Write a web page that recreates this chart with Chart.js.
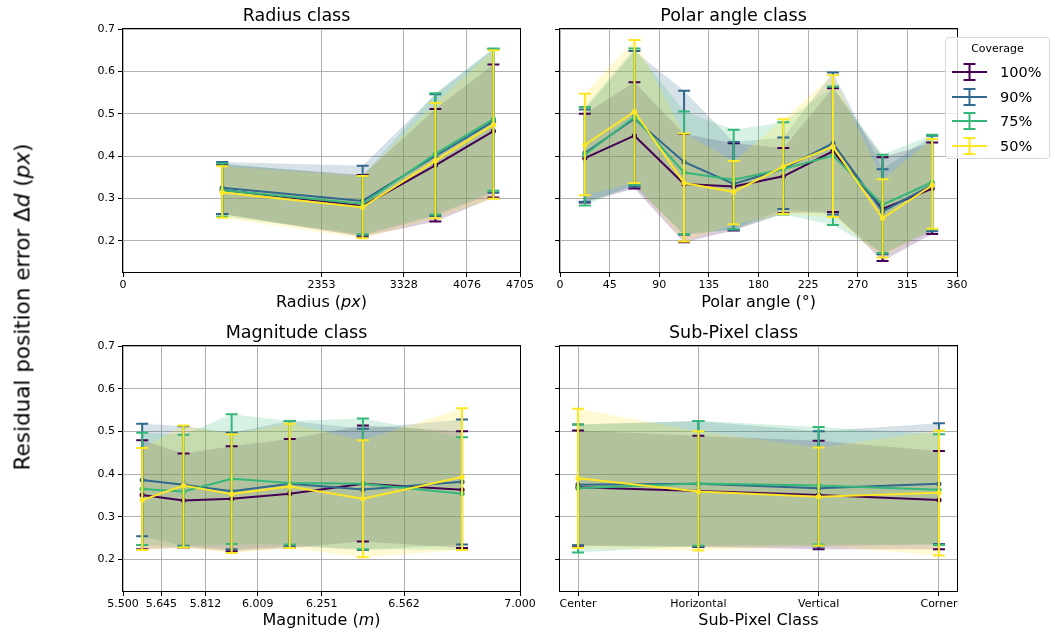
<!DOCTYPE html>
<html>
<head>
<meta charset="utf-8">
<script src="https://cdn.jsdelivr.net/npm/chart.js@4.4.1/dist/chart.umd.min.js"></script>
<style>
  html, body { margin: 0; padding: 0; background: #fff; }
  #fig { position: relative; width: 1055px; height: 637px; font-family: 'DejaVu Sans', sans-serif; color: #000; }
  #fig canvas { position: absolute; left: 0; top: 0; }
  #ylabel {
    position: absolute; left: 22px; top: 307px;
    transform: translate(-50%, -50%) rotate(-90deg);
    white-space: nowrap; font-size: 21.5px;
  }
  #legend {
    position: absolute; left: 945px; top: 37px; width: 105px; height: 122px;
    box-sizing: border-box; border: 1px solid #d8d8d8; border-radius: 4px;
    background: rgba(255, 255, 255, 0.8);
  }
  #legend .lt { position: absolute; left: 0; width: 100%; top: 4px; text-align: center; font-size: 11px; }
  #legend .item { position: absolute; left: 0; width: 100%; height: 20px; }
  #legend .item svg { position: absolute; left: 5px; top: 0; }
  #legend .item span { position: absolute; left: 54px; top: 1px; font-size: 14.5px; line-height: 18px; }
</style>
</head>
<body>
<div id="fig">
  <canvas id="radius" width="1055" height="637"></canvas>
  <canvas id="polar" width="1055" height="637"></canvas>
  <canvas id="mag" width="1055" height="637"></canvas>
  <canvas id="subpix" width="1055" height="637"></canvas>
  <div id="ylabel">Residual position error Δ<i>d</i> (<i>px</i>)</div>
  <div id="legend"><div class="lt">Coverage</div></div>
</div>
<script>
const coverage = ["100%", "90%", "75%", "50%"];
const colors = ["#440154", "#31688e", "#35b779", "#fde725"];
const yTicks = [0.2, 0.3, 0.4, 0.5, 0.6, 0.7];

// Radius class
const radiusTicks = [0, 2353, 3328, 4076, 4705];
const radiusX = [1176, 2840, 3702, 4390];
const radiusMean = [
  [0.320, 0.282, 0.378, 0.459],
  [0.325, 0.294, 0.400, 0.482],
  [0.319, 0.287, 0.405, 0.487],
  [0.314, 0.279, 0.389, 0.474]
];
const radiusLow = [
  [0.263, 0.209, 0.245, 0.302],
  [0.263, 0.212, 0.258, 0.313],
  [0.257, 0.215, 0.262, 0.318],
  [0.254, 0.206, 0.253, 0.299]
];
const radiusHigh = [
  [0.380, 0.355, 0.511, 0.616],
  [0.386, 0.377, 0.546, 0.653],
  [0.382, 0.352, 0.548, 0.654],
  [0.376, 0.353, 0.525, 0.650]
];

// Polar angle class
const polarTicks = [0, 45, 90, 135, 180, 225, 270, 315, 360];
const polarX = [22.5, 67.5, 112.5, 157.5, 202.5, 247.5, 292.5, 337.5];
const polarMean = [
  [0.395, 0.448, 0.334, 0.328, 0.352, 0.411, 0.275, 0.323],
  [0.407, 0.488, 0.386, 0.334, 0.370, 0.430, 0.269, 0.332],
  [0.403, 0.492, 0.361, 0.344, 0.369, 0.401, 0.285, 0.338],
  [0.426, 0.505, 0.336, 0.315, 0.375, 0.422, 0.253, 0.331]
];
const polarLow = [
  [0.290, 0.323, 0.196, 0.224, 0.265, 0.268, 0.152, 0.216],
  [0.292, 0.328, 0.214, 0.226, 0.275, 0.262, 0.168, 0.222],
  [0.283, 0.332, 0.216, 0.227, 0.262, 0.237, 0.171, 0.227],
  [0.307, 0.336, 0.198, 0.239, 0.263, 0.256, 0.160, 0.228]
];
const polarHigh = [
  [0.500, 0.574, 0.452, 0.430, 0.419, 0.560, 0.397, 0.432],
  [0.510, 0.648, 0.554, 0.433, 0.444, 0.597, 0.369, 0.448],
  [0.516, 0.654, 0.505, 0.462, 0.480, 0.564, 0.403, 0.450],
  [0.547, 0.674, 0.453, 0.388, 0.487, 0.591, 0.345, 0.440]
];

// Magnitude class
const magTicks = [5.5, 5.645, 5.812, 6.009, 6.251, 6.562, 7.0];
const magX = [5.5725, 5.7285, 5.9105, 6.130, 6.4065, 6.781];
const magMean = [
  [0.351, 0.338, 0.342, 0.354, 0.377, 0.363],
  [0.386, 0.375, 0.360, 0.377, 0.364, 0.382],
  [0.365, 0.359, 0.389, 0.379, 0.377, 0.354],
  [0.339, 0.373, 0.353, 0.371, 0.342, 0.393]
];
const magLow = [
  [0.224, 0.228, 0.219, 0.227, 0.242, 0.227],
  [0.254, 0.232, 0.224, 0.231, 0.222, 0.235],
  [0.234, 0.230, 0.236, 0.235, 0.224, 0.222],
  [0.222, 0.228, 0.215, 0.227, 0.205, 0.222]
];
const magHigh = [
  [0.479, 0.448, 0.465, 0.482, 0.514, 0.500],
  [0.518, 0.512, 0.497, 0.524, 0.506, 0.528],
  [0.497, 0.492, 0.540, 0.524, 0.530, 0.486],
  [0.461, 0.514, 0.493, 0.518, 0.479, 0.554]
];

// Sub-Pixel class
const subLabels = ["Center", "Horizontal", "Vertical", "Corner"];
const subX = [0, 1, 2, 3];
const subMean = [
  [0.369, 0.360, 0.351, 0.339],
  [0.375, 0.377, 0.367, 0.377],
  [0.367, 0.378, 0.373, 0.363],
  [0.390, 0.359, 0.347, 0.356]
];
const subLow = [
  [0.232, 0.229, 0.224, 0.224],
  [0.233, 0.230, 0.230, 0.236],
  [0.216, 0.232, 0.235, 0.234],
  [0.227, 0.221, 0.232, 0.209]
];
const subHigh = [
  [0.502, 0.490, 0.478, 0.454],
  [0.516, 0.524, 0.500, 0.519],
  [0.516, 0.524, 0.510, 0.493],
  [0.553, 0.500, 0.462, 0.502]
];

Chart.defaults.font.family = "'DejaVu Sans', sans-serif";
Chart.defaults.color = "#000";

const W = 1055, H = 637;
const Y_AXIS_W = 50, X_AXIS_H = 45;
const TITLE_SIZE = 17.5, TITLE_GAP = 2.2;

function withAlpha(hex, a) {
  const n = parseInt(hex.slice(1), 16);
  return `rgba(${(n >> 16) & 255}, ${(n >> 8) & 255}, ${n & 255}, ${a})`;
}

// vertical error bars with caps, drawn just before each mean line
const errorBars = {
  id: "errorBars",
  beforeDatasetDraw(chart, args) {
    const ds = chart.data.datasets[args.index];
    if (!ds.errLow) return;
    const { ctx } = chart;
    const x = chart.scales.x, y = chart.scales.y;
    ctx.save();
    ctx.strokeStyle = ds.borderColor;
    ctx.lineWidth = 2;
    ds.data.forEach((p, j) => {
      const px = x.getPixelForValue(p.x);
      const lo = y.getPixelForValue(ds.errLow[j]);
      const hi = y.getPixelForValue(ds.errHigh[j]);
      ctx.beginPath();
      ctx.moveTo(px, lo); ctx.lineTo(px, hi);
      ctx.moveTo(px - 6, lo); ctx.lineTo(px + 6, lo);
      ctx.moveTo(px - 6, hi); ctx.lineTo(px + 6, hi);
      ctx.stroke();
    });
    ctx.restore();
  }
};

// black box round the plot area
const frame = {
  id: "frame",
  afterDatasetsDraw(chart) {
    const { ctx, chartArea: a } = chart;
    ctx.save();
    ctx.strokeStyle = "#000";
    ctx.lineWidth = 1;
    ctx.strokeRect(Math.round(a.left) - 0.5, Math.round(a.top) - 0.5,
      Math.round(a.right - a.left) + 1, Math.round(a.bottom - a.top) + 1);
    ctx.restore();
  }
};

// x axis label with italic parts
function axisLabel(parts, offset) {
  return {
    id: "axisLabel",
    afterDraw(chart) {
      const { ctx, chartArea: a } = chart;
      const font = (it) => (it ? "italic " : "") + "16px 'DejaVu Sans'";
      ctx.save();
      ctx.fillStyle = "#000";
      ctx.textBaseline = "middle";
      let total = 0;
      parts.forEach(([t, it]) => { ctx.font = font(it); total += ctx.measureText(t).width; });
      let x = (a.left + a.right) / 2 - total / 2;
      parts.forEach(([t, it]) => {
        ctx.font = font(it);
        ctx.fillText(t, x, a.bottom + offset);
        x += ctx.measureText(t).width;
      });
      ctx.restore();
    }
  };
}

function makePanel(id, box, cfg) {
  const datasets = [];
  // bands: the filler paints the last dataset first, so 50% goes first to end on top
  for (let i = coverage.length - 1; i >= 0; i--) {
    datasets.push({
      data: cfg.xs.map((x, j) => ({ x: x, y: cfg.high[i][j] })),
      fill: "+1", backgroundColor: withAlpha(colors[i], 0.2),
      borderColor: "rgba(0,0,0,0)", borderWidth: 0, pointRadius: 0, order: 10
    });
    datasets.push({
      data: cfg.xs.map((x, j) => ({ x: x, y: cfg.low[i][j] })),
      fill: false, borderColor: "rgba(0,0,0,0)", borderWidth: 0, pointRadius: 0, order: 10
    });
  }
  coverage.forEach((c, i) => {
    datasets.push({
      label: c,
      data: cfg.xs.map((x, j) => ({ x: x, y: cfg.mean[i][j] })),
      borderColor: colors[i], backgroundColor: colors[i],
      borderWidth: 2, pointRadius: 2.6, pointBorderWidth: 0, fill: false,
      order: 4 - i, errLow: cfg.low[i], errHigh: cfg.high[i]
    });
  });

  return new Chart(document.getElementById(id), {
    type: "line",
    data: { datasets: datasets },
    plugins: [errorBars, frame, axisLabel(cfg.label, cfg.labelOffset)],
    options: {
      responsive: false,
      animation: false,
      devicePixelRatio: 1,
      events: [],
      layout: {
        padding: {
          left: box.left - Y_AXIS_W,
          right: W - box.right,
          top: box.top - (TITLE_SIZE * 1.2 + TITLE_GAP),
          bottom: H - box.bottom - X_AXIS_H
        }
      },
      scales: {
        x: {
          type: "linear", min: cfg.xmin, max: cfg.xmax,
          afterBuildTicks: (s) => { s.ticks = cfg.xticks.map((v) => ({ value: v })); },
          afterFit: (s) => { s.height = X_AXIS_H; },
          ticks: { autoSkip: false, maxRotation: 0, padding: 2, font: { size: 11 }, callback: cfg.fmt },
          grid: { color: "#b0b0b0", lineWidth: 1, tickLength: 5, tickColor: "#000" },
          border: { display: false }
        },
        y: {
          type: "linear", min: 0.126, max: 0.7,
          afterBuildTicks: (s) => { s.ticks = yTicks.map((v) => ({ value: v })); },
          afterFit: (s) => { s.width = Y_AXIS_W; },
          ticks: { display: cfg.yLabels, padding: 3, font: { size: 11 }, callback: (v) => v.toFixed(1) },
          grid: { color: "#b0b0b0", lineWidth: 1, tickLength: 5, tickColor: "#000" },
          border: { display: false }
        }
      },
      plugins: {
        legend: { display: false },
        tooltip: { enabled: false },
        filler: { drawTime: "beforeDatasetsDraw" },
        title: {
          display: true, text: cfg.title,
          font: { size: TITLE_SIZE, weight: "normal" },
          padding: { top: 0, bottom: TITLE_GAP }
        }
      }
    }
  });
}

makePanel("radius", { left: 123, top: 29, right: 520, bottom: 272 }, {
  title: "Radius class", xs: radiusX, mean: radiusMean, low: radiusLow, high: radiusHigh,
  xmin: 0, xmax: 4705, xticks: radiusTicks, fmt: (v) => String(v),
  label: [["Radius (", false], ["px", true], [")", false]], labelOffset: 31, yLabels: true
});

makePanel("polar", { left: 560, top: 29, right: 957, bottom: 272 }, {
  title: "Polar angle class", xs: polarX, mean: polarMean, low: polarLow, high: polarHigh,
  xmin: 0, xmax: 360, xticks: polarTicks, fmt: (v) => String(v),
  label: [["Polar angle (°)", false]], labelOffset: 31, yLabels: false
});

makePanel("mag", { left: 123, top: 346, right: 520, bottom: 591 }, {
  title: "Magnitude class", xs: magX, mean: magMean, low: magLow, high: magHigh,
  xmin: 5.5, xmax: 7.0, xticks: magTicks, fmt: (v) => v.toFixed(3),
  label: [["Magnitude (", false], ["m", true], [")", false]], labelOffset: 30, yLabels: true
});

makePanel("subpix", { left: 560, top: 346, right: 957, bottom: 591 }, {
  title: "Sub-Pixel class", xs: subX, mean: subMean, low: subLow, high: subHigh,
  xmin: -0.15, xmax: 3.15, xticks: subX, fmt: (v) => subLabels[v],
  label: [["Sub-Pixel Class", false]], labelOffset: 30, yLabels: false
});

// legend with error-bar glyphs
const legend = document.getElementById("legend");
coverage.forEach((c, i) => {
  const item = document.createElement("div");
  item.className = "item";
  item.style.top = (24 + i * 24.7) + "px";
  item.innerHTML =
    `<svg width="36" height="20"><g stroke="${colors[i]}" stroke-width="2" fill="none">` +
    `<line x1="1" y1="10" x2="36" y2="10"/><line x1="18.5" y1="2" x2="18.5" y2="18"/>` +
    `<line x1="12.5" y1="2" x2="24.5" y2="2"/><line x1="12.5" y1="18" x2="24.5" y2="18"/></g></svg>` +
    `<span>${c}</span>`;
  legend.appendChild(item);
});
</script>
</body>
</html>
